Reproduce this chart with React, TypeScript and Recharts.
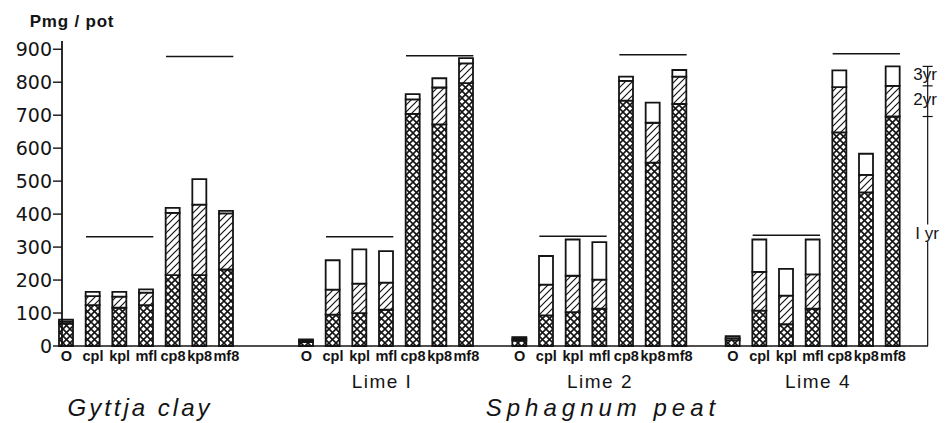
import React from 'react';
import { BarChart, Bar, XAxis, YAxis, ReferenceLine } from 'recharts';

// treatments within each soil group
const treatments = ['O', 'cpl', 'kpl', 'mfl', 'cp8', 'kp8', 'mf8'];
const groupNames = ['Lime I', 'Lime 2', 'Lime 4'];
const yTicks = [0, 100, 200, 300, 400, 500, 600, 700, 800, 900];

// P mg / pot taken up in each year (1yr, 2yr, 3yr)
const gyttjaYr1 = [68, 124, 116, 124, 215, 215, 232];
const gyttjaYr2 = [6, 27, 34, 38, 189, 214, 170];
const gyttjaYr3 = [6, 13, 14, 10, 15, 77, 8];

const lime1Yr1 = [12, 95, 100, 110, 704, 672, 797];
const lime1Yr2 = [4, 76, 89, 82, 44, 112, 60];
const lime1Yr3 = [4, 89, 104, 96, 16, 28, 16];

const lime2Yr1 = [16, 93, 103, 113, 744, 556, 734];
const lime2Yr2 = [6, 93, 110, 88, 60, 121, 83];
const lime2Yr3 = [5, 87, 110, 114, 13, 61, 20];

const lime4Yr1 = [18, 107, 66, 113, 648, 466, 696];
const lime4Yr2 = [6, 118, 87, 104, 137, 53, 93];
const lime4Yr3 = [6, 98, 81, 106, 51, 64, 59];

// levels of the horizontal lines drawn over the treatment sets
const lowLines = [331, 331, 333, 336];
const highLines = [878, 880, 883, 886];

const groups = [
  { id: 'g', y1: gyttjaYr1, y2: gyttjaYr2, y3: gyttjaYr3, gap: 2 },
  { id: 'l1', y1: lime1Yr1, y2: lime1Yr2, y3: lime1Yr3, gap: 1 },
  { id: 'l2', y1: lime2Yr1, y2: lime2Yr2, y3: lime2Yr3, gap: 1 },
  { id: 'l4', y1: lime4Yr1, y2: lime4Yr2, y3: lime4Yr3, gap: 0 },
];

const rows: any[] = [];
groups.forEach((g) => {
  treatments.forEach((t, i) => {
    rows.push({ key: `${g.id}-${t}`, label: t, y1: g.y1[i], y2: g.y2[i], y3: g.y3[i] });
  });
  for (let s = 0; s < g.gap; s++) rows.push({ key: `${g.id}-gap${s}`, label: '' });
});
rows.push({ key: 'end', label: '' });

const labelOf: Record<string, string> = {};
rows.forEach((r) => (labelOf[r.key] = r.label));

const b1 = lime4Yr1[6];
const b2 = b1 + lime4Yr2[6];
const b3 = b2 + lime4Yr3[6];

const INK = '#141414';

const hLine = (extend: number) => (p: any) => (
  <line x1={p.x1 - extend} x2={p.x2 + extend} y1={p.y1} y2={p.y2} stroke={INK} strokeWidth={1.5} />
);
const vLine = (dx: number) => (p: any) => (
  <line x1={p.x1 + dx} x2={p.x2 + dx} y1={p.y1} y2={p.y2} stroke={INK} strokeWidth={1.2} />
);
const tickMark = (dx: number, half: number) => (p: any) => (
  <line x1={p.x1 + dx - half} x2={p.x1 + dx + half} y1={p.y1} y2={p.y1} stroke={INK} strokeWidth={1.2} />
);

const Txt = ({ x, y, size, children, italic, spacing, bg, weight }: any) => (
  <div
    style={{
      position: 'absolute',
      left: x,
      top: y,
      fontSize: size,
      fontFamily: 'Liberation Sans, Arial, sans-serif',
      fontStyle: italic ? 'italic' : 'normal',
      fontWeight: weight || 400,
      letterSpacing: spacing || 0,
      color: INK,
      lineHeight: 1,
      whiteSpace: 'nowrap',
      transform: 'translate(-50%, -50%)',
      background: bg ? '#fff' : 'transparent',
    }}
  >
    {children}
  </div>
);

export default function App() {
  return (
    <div style={{ position: 'absolute', left: 0, top: 0, width: 948, height: 423, background: '#fff' }}>
      <BarChart
        width={948}
        height={423}
        data={rows}
        margin={{ top: 41, right: 20, bottom: 47, left: 0 }}
        barSize={14}
      >
        <defs>
          <pattern id="cross" width="7" height="7" patternUnits="userSpaceOnUse">
            <rect width="7" height="7" fill="#fff" />
            <path d="M0,0 L7,7 M7,0 L0,7" stroke={INK} strokeWidth="1.6" />
          </pattern>
          <pattern id="diag" width="7" height="7" patternUnits="userSpaceOnUse">
            <rect width="7" height="7" fill="#fff" />
            <path d="M0,7 L7,0 M-1,1 L1,-1 M6,8 L8,6" stroke={INK} strokeWidth="1.2" />
          </pattern>
        </defs>
        <XAxis
          dataKey="key"
          interval={0}
          tickFormatter={(k: string) => labelOf[k] ?? ''}
          tickLine={false}
          tickSize={4}
          tickMargin={1}
          height={30}
          padding={{ left: -9, right: -5 }}
          axisLine={{ stroke: INK, strokeWidth: 1.6 }}
          tick={{ fontSize: 14.5, fontWeight: 700, fill: INK, fontFamily: 'Liberation Sans, Arial, sans-serif' }}
        />
        <YAxis
          domain={[0, 925]}
          ticks={yTicks}
          interval={0}
          width={62}
          tickSize={9}
          tickMargin={1}
          axisLine={{ stroke: INK, strokeWidth: 1.8 }}
          tickLine={{ stroke: INK, strokeWidth: 1.4 }}
          tick={{ fontSize: 19, fill: INK, fontFamily: 'DejaVu Sans, sans-serif' }}
        />
        <Bar dataKey="y1" stackId="p" fill="url(#cross)" stroke={INK} strokeWidth={1.8} isAnimationActive={false} />
        <Bar dataKey="y2" stackId="p" fill="url(#diag)" stroke={INK} strokeWidth={1.8} isAnimationActive={false} />
        <Bar dataKey="y3" stackId="p" fill="#fff" stroke={INK} strokeWidth={1.8} isAnimationActive={false} />
        {groups.map((g, i) => (
          <ReferenceLine
            key={`lo-${g.id}`}
            segment={[{ x: `${g.id}-cpl`, y: lowLines[i] }, { x: `${g.id}-mfl`, y: lowLines[i] }]}
            shape={hLine(7)}
          />
        ))}
        {groups.map((g, i) => (
          <ReferenceLine
            key={`hi-${g.id}`}
            segment={[{ x: `${g.id}-cp8`, y: highLines[i] }, { x: `${g.id}-mf8`, y: highLines[i] }]}
            shape={hLine(7)}
          />
        ))}
        <ReferenceLine segment={[{ x: 'end', y: 0 }, { x: 'end', y: b3 }]} shape={vLine(8)} />
        {[b1, b2, b3].map((v) => (
          <ReferenceLine key={`bt-${v}`} segment={[{ x: 'end', y: v }, { x: 'end', y: v }]} shape={tickMark(8, 5)} />
        ))}
      </BarChart>

      <Txt x={72} y={21} size={17} spacing={0.8} weight={700}>
        Pmg / pot
      </Txt>
      <Txt x={925} y={74} size={17}>3yr</Txt>
      <Txt x={925} y={99} size={17}>2yr</Txt>
      <Txt x={927} y={233} size={17} bg>
        I yr
      </Txt>
      <Txt x={382} y={381} size={19} spacing={1.5}>{groupNames[0]}</Txt>
      <Txt x={600} y={381} size={19} spacing={1.5}>{groupNames[1]}</Txt>
      <Txt x={818} y={381} size={19} spacing={1.5}>{groupNames[2]}</Txt>
      <Txt x={140} y={408} size={24} italic spacing={3}>Gyttja clay</Txt>
      <Txt x={603} y={408} size={24} italic spacing={5}>Sphagnum peat</Txt>
    </div>
  );
}
